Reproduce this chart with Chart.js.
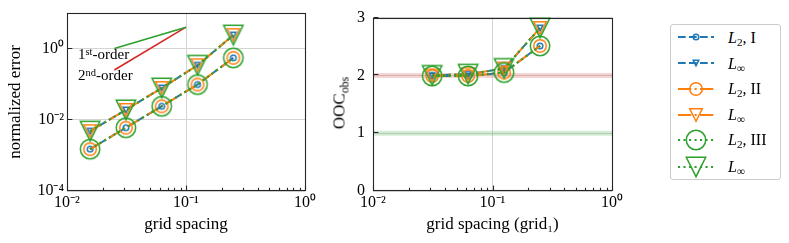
<!DOCTYPE html>
<html><head><meta charset="utf-8">
<script src="https://cdn.jsdelivr.net/npm/chart.js@4.4.1/dist/chart.umd.min.js"></script>
<style>
html,body{margin:0;padding:0;background:#fff;}
body{width:789px;height:243px;position:relative;overflow:hidden;font-family:'Liberation Serif','Times New Roman',serif;color:#000;}
.cw{position:absolute;top:0;height:243px;}
#w1{left:0;width:320px;}
#w2{left:320px;width:320px;}
.txt{position:absolute;white-space:nowrap;line-height:18px;}
.sup{font-size:70%;position:relative;top:-0.45em;}
.sub{font-size:70%;position:relative;top:0.3em;}
#legend{position:absolute;left:670px;top:24px;width:111px;height:156px;border:1px solid #cccccc;border-radius:3px;box-sizing:border-box;background:#fff;}
#legend canvas{position:absolute;left:5px;}
#legend .lt{position:absolute;left:57px;font-size:16px;line-height:18px;white-space:nowrap;}
</style></head><body>
<div class="cw" id="w1"><canvas id="c1" width="320" height="243"></canvas></div>
<div class="cw" id="w2"><canvas id="c2" width="320" height="243"></canvas></div>
<div class="txt" style="left:78px;top:45.4px;font-size:15px;">1<span class="sup">st</span>-order</div>
<div class="txt" style="left:78px;top:66.4px;font-size:15px;">2<span class="sup">nd</span>-order</div>
<div class="txt" id="oocTitle" style="left:340px;top:102.5px;font-size:17px;transform:translate(-50%,-50%) rotate(-90deg);">OOC<span class="sub">obs</span></div>
<div id="legend"></div>
<script>
// ---------------- data ----------------
const GRID_SPACING  = [0.015625, 0.03125, 0.0625, 0.125, 0.25];
const GRID1_SPACING = [0.03125, 0.0625, 0.125, 0.25];

const ERR_L2_I     = [1.5e-3, 6.0e-3, 2.4e-2, 9.8e-2, 0.55];
const ERR_LINF_I   = [4.8e-3, 1.9e-2, 7.8e-2, 0.34, 2.4];
const ERR_L2_II    = [1.5e-3, 6.0e-3, 2.4e-2, 9.8e-2, 0.55];
const ERR_LINF_II  = [4.8e-3, 1.9e-2, 7.8e-2, 0.34, 2.4];
const ERR_L2_III   = [1.5e-3, 6.0e-3, 2.4e-2, 9.8e-2, 0.55];
const ERR_LINF_III = [4.8e-3, 1.9e-2, 7.8e-2, 0.34, 2.4];

const OOC_L2_I     = [1.99, 1.99, 2.05, 2.51];
const OOC_LINF_I   = [2.00, 2.02, 2.12, 2.82];
const OOC_L2_II    = [1.99, 1.99, 2.05, 2.51];
const OOC_LINF_II  = [2.00, 2.02, 2.12, 2.82];
const OOC_L2_III   = [1.99, 1.99, 2.05, 2.51];
const OOC_LINF_III = [2.00, 2.02, 2.12, 2.82];

const REF_X            = [0.025, 0.1];
const REF_FIRST_ORDER  = [1.0, 4.0];
const REF_SECOND_ORDER = [0.25, 4.0];

const BAND_X      = [0.01, 1];
const BAND_ORDER2 = [2, 2];
const BAND_ORDER1 = [1, 1];

const X_TICKS        = [0.01, 0.1, 1];
const X_TICK_LABELS  = ['10⁻²', '10⁻¹', '10⁰'];
const X_MINOR_TICKS  = [0.02,0.03,0.04,0.05,0.06,0.07,0.08,0.09,0.2,0.3,0.4,0.5,0.6,0.7,0.8,0.9];
const ERR_TICKS       = [1e-4, 1e-2, 1];
const ERR_TICK_LABELS = ['10⁻⁴', '10⁻²', '10⁰'];
const OOC_TICKS       = [0, 1, 2, 3];
const OOC_TICK_LABELS = ['0', '1', '2', '3'];

// ---------------- styles ----------------
const BLUE='#1f77b4', ORANGE='#ff7f0e', GREEN='#2ca02c', RED='#d62728';
const GRID_C = '#d4d4d4';
const FONT = "'Liberation Serif', 'Times New Roman', serif";
const tickFont = {family: FONT, size: 16};
const titleFont = {family: FONT, size: 17};

function marker(shape, size, color, lw){
  const pad = Math.ceil(lw) + 2;
  let s = Math.ceil(size + pad*2); if (s % 2) s++;
  const c = document.createElement('canvas'); c.width = c.height = s;
  const g = c.getContext('2d'); g.strokeStyle = color; g.lineWidth = lw;
  const m = s/2, h = size/2;
  g.beginPath();
  if (shape === 'o') g.arc(m, m, h, 0, Math.PI*2);
  else { g.moveTo(m, m+h); g.lineTo(m-h, m-h); g.lineTo(m+h, m-h); g.closePath(); }
  g.stroke();
  return c;
}

const STYLES = [
  {color: BLUE,   dash: [7.7, 3.3],            ms: 5.6},
  {color: ORANGE, dash: [13.3, 3.3, 2.1, 3.3], ms: 12.5},
  {color: GREEN,  dash: [2.1, 3.4],            ms: 19.4}
];
const MEW = 1.5;
const LW = 2;

function pts(xs, ys){ return xs.map((x, i) => ({x, y: ys[i]})); }

function seriesSets(xs, groups){
  const out = [];
  groups.forEach((g, gi) => {
    const st = STYLES[gi];
    [['o', g[0]], ['v', g[1]]].forEach(([shape, ys], k) => {
      out.push({
        data: pts(xs, ys), showLine: true, borderColor: st.color, borderWidth: LW,
        borderDash: st.dash, backgroundColor: 'transparent',
        pointStyle: marker(shape, st.ms, st.color, MEW), pointRadius: st.ms/2,
        order: 100 - (gi*2 + k), clip: false
      });
    });
  });
  return out;
}

const frameTicks = {
  id: 'frameTicks',
  afterDatasetsDraw(chart, args, o){
    const {ctx, chartArea: a, scales: {x, y}} = chart;
    ctx.save();
    ctx.strokeStyle = '#262626'; ctx.lineWidth = 1.1;
    ctx.beginPath();
    const L = Math.round(a.left) + 0.5, B = Math.round(a.bottom) - 0.5;
    const tick = (vals, len, isX) => vals.forEach(v => {
      if (isX){ const p = Math.round(x.getPixelForValue(v)) + 0.5; ctx.moveTo(p, B); ctx.lineTo(p, B - len); }
      else { const p = Math.round(y.getPixelForValue(v)) - 0.5; ctx.moveTo(L, p); ctx.lineTo(L + len, p); }
    });
    tick(o.xMajor, 4.9, true); tick(o.xMinor, 2.8, true);
    tick(o.yMajor, 4.9, false);
    ctx.stroke();
    ctx.strokeRect(L, Math.round(a.top) + 0.5, Math.round(a.right) - Math.round(a.left), Math.round(a.bottom) - Math.round(a.top) - 1);
    ctx.restore();
  }
};

function xScale(title){
  return {
    type: 'logarithmic', min: 0.01, max: 1,
    afterBuildTicks: s => { s.ticks = X_TICKS.map(v => ({value: v})); },
    afterFit: s => { s.height = 52; },
    ticks: {font: tickFont, color: '#000', padding: 2, maxRotation: 0, autoSkip: false,
            callback: (v, i) => X_TICK_LABELS[i]},
    grid: {color: GRID_C, lineWidth: 1, drawTicks: false},
    border: {display: false},
    title: {display: true, text: title, font: titleFont, color: '#000', padding: {top: 0, bottom: 8.5}}
  };
}

const commonOpts = {responsive: false, animation: false, events: []};

// ---------------- left chart ----------------
new Chart(document.getElementById('c1'), {
  type: 'scatter',
  data: {datasets: [
    {data: pts(REF_X, REF_FIRST_ORDER), showLine: true, borderColor: GREEN, borderWidth: 1.6, pointRadius: 0, order: 200},
    {data: pts(REF_X, REF_SECOND_ORDER), showLine: true, borderColor: RED, borderWidth: 1.6, pointRadius: 0, order: 200},
    ...seriesSets(GRID_SPACING, [[ERR_L2_I, ERR_LINF_I], [ERR_L2_II, ERR_LINF_II], [ERR_L2_III, ERR_LINF_III]])
  ]},
  options: {
    ...commonOpts,
    layout: {padding: {left: 0, right: 15, top: 13, bottom: 0}},
    plugins: {legend: {display: false}, tooltip: {enabled: false},
              frameTicks: {xMajor: X_TICKS, xMinor: X_MINOR_TICKS, yMajor: ERR_TICKS}},
    scales: {
      x: xScale('grid spacing'),
      y: {
        type: 'logarithmic', min: 1e-4, max: 10,
        afterBuildTicks: s => { s.ticks = ERR_TICKS.map(v => ({value: v})); },
        afterFit: s => { s.width = 67; },
        ticks: {font: tickFont, color: '#000', padding: 3, autoSkip: false, callback: (v, i) => ERR_TICK_LABELS[i]},
        grid: {color: GRID_C, lineWidth: 1, drawTicks: false},
        border: {display: false},
        title: {display: true, text: 'normalized error', font: titleFont, color: '#000', padding: {top: 5.6, bottom: 0}}
      }
    }
  },
  plugins: [frameTicks]
});

// ---------------- right chart ----------------
new Chart(document.getElementById('c2'), {
  type: 'scatter',
  data: {datasets: [
    {data: pts(BAND_X, BAND_ORDER2), showLine: true, borderColor: 'rgba(214,39,40,0.2)', borderWidth: 5, pointRadius: 0, order: 300},
    {data: pts(BAND_X, BAND_ORDER1), showLine: true, borderColor: 'rgba(44,160,44,0.2)', borderWidth: 5, pointRadius: 0, order: 300},
    ...seriesSets(GRID1_SPACING, [[OOC_L2_I, OOC_LINF_I], [OOC_L2_II, OOC_LINF_II], [OOC_L2_III, OOC_LINF_III]])
  ]},
  options: {
    ...commonOpts,
    layout: {padding: {left: 0, right: 28, top: 13, bottom: 0}},
    plugins: {legend: {display: false}, tooltip: {enabled: false},
              frameTicks: {xMajor: X_TICKS, xMinor: X_MINOR_TICKS, yMajor: OOC_TICKS}},
    scales: {
      x: xScale('grid spacing (grid₁)'),
      y: {
        type: 'linear', min: 0, max: 3,
        afterBuildTicks: s => { s.ticks = OOC_TICKS.map(v => ({value: v})); },
        afterFit: s => { s.width = 53; },
        ticks: {font: tickFont, color: '#000', padding: 8, autoSkip: false, callback: (v, i) => OOC_TICK_LABELS[i]},
        grid: {color: GRID_C, lineWidth: 1, drawTicks: false},
        border: {display: false},
        title: {display: false}
      }
    }
  },
  plugins: [frameTicks]
});

// ---------------- legend ----------------
const LEGEND_LABELS = ['<i>L</i><span class="sub">2</span>, I', '<i>L</i><span class="sub">∞</span>',
                       '<i>L</i><span class="sub">2</span>, II', '<i>L</i><span class="sub">∞</span>',
                       '<i>L</i><span class="sub">2</span>, III', '<i>L</i><span class="sub">∞</span>'];
const ROW_CENTERS = [12, 38, 63.5, 89.5, 114.5, 141.5];
const leg = document.getElementById('legend');
LEGEND_LABELS.forEach((lab, i) => {
  const st = STYLES[Math.floor(i/2)];
  const cy = ROW_CENTERS[i];
  const cv = document.createElement('canvas'); cv.width = 40; cv.height = 26;
  cv.style.top = (cy - 13) + 'px';
  const g = cv.getContext('2d');
  g.strokeStyle = st.color; g.lineWidth = LW; g.setLineDash(st.dash);
  g.beginPath(); g.moveTo(2, 13); g.lineTo(38, 13); g.stroke();
  g.setLineDash([]);
  const mk = marker(i % 2 ? 'v' : 'o', st.ms, st.color, MEW);
  g.drawImage(mk, 20 - mk.width/2, 13 - mk.height/2);
  leg.appendChild(cv);
  const t = document.createElement('div'); t.className = 'lt'; t.innerHTML = lab;
  t.style.top = (cy - 8.4) + 'px';
  leg.appendChild(t);
});
</script>
</body></html>
